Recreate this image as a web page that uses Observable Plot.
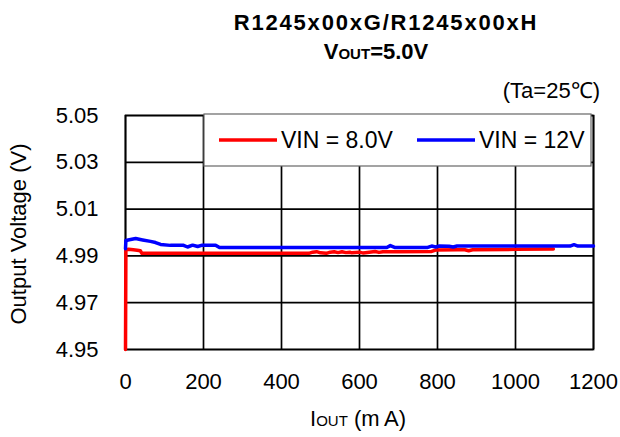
<!DOCTYPE html>
<html>
<head>
<meta charset="utf-8">
<script src="https://cdn.jsdelivr.net/npm/d3@7"></script>
<script src="https://cdn.jsdelivr.net/npm/@observablehq/plot@0.6"></script>
<style>
  html, body { margin: 0; padding: 0; background: #fff; }
  #chart { width: 620px; height: 437px; }
</style>
</head>
<body>
<div id="chart"></div>
<script>
// ---- data ----
const xTicks = [0, 200, 400, 600, 800, 1000, 1200];
const yTicks = [4.95, 4.97, 4.99, 5.01, 5.03, 5.05];

const seriesNames = ["VIN = 8.0V", "VIN = 12V"];
const seriesColors = ["#ff0000", "#0000ff"];

// VIN = 8.0V : [IOUT (mA), VOUT (V)]
const vin8 = [
  [0, 4.9500], [1, 4.9926], [8, 4.9928], [20, 4.9926], [30, 4.9924], [38, 4.9922],
  [42, 4.9911], [470, 4.9911], [480, 4.9916], [490, 4.9918], [500, 4.9913],
  [515, 4.9911], [525, 4.9916], [535, 4.9918], [545, 4.9914], [555, 4.9918],
  [565, 4.9914], [575, 4.9916], [580, 4.9913], [600, 4.9916], [610, 4.9912],
  [625, 4.9916], [640, 4.9919], [650, 4.9915], [660, 4.9918], [700, 4.9918],
  [785, 4.9919], [795, 4.9925], [850, 4.9926], [870, 4.9926], [880, 4.9922],
  [890, 4.9926], [1000, 4.9928], [1097, 4.9929]
];

// VIN = 12V
const vin12 = [
  [0, 4.9931], [1, 4.9966], [13, 4.9970], [26, 4.9974], [44, 4.9968], [64, 4.9962],
  [77, 4.9957], [90, 4.9949], [115, 4.9945], [149, 4.9945], [159, 4.9938],
  [172, 4.9946], [185, 4.9940], [197, 4.9946], [231, 4.9946], [241, 4.9936],
  [450, 4.9936], [670, 4.9936], [679, 4.9944], [690, 4.9936], [775, 4.9936],
  [785, 4.9942], [795, 4.9938], [805, 4.9942], [830, 4.9941], [840, 4.9938],
  [850, 4.9942], [1140, 4.9942], [1150, 4.9948], [1160, 4.9942], [1200, 4.9942]
];

const FONT = "'Liberation Sans', Arial, Helvetica, sans-serif";

const chart = Plot.plot({
  width: 620,
  height: 437,
  marginLeft: 125,
  marginRight: 27,
  marginTop: 115,
  marginBottom: 88,
  style: { fontFamily: FONT, fontSize: "22px", background: "#fff", color: "#000" },
  x: { domain: [0, 1200], label: null },
  y: { domain: [4.95, 5.05], label: null },
  marks: [
    Plot.gridX(xTicks, { stroke: "#000", strokeOpacity: 1, strokeWidth: 1.7 }),
    Plot.gridY(yTicks, { stroke: "#000", strokeOpacity: 1, strokeWidth: 1.7 }),
    Plot.frame({ stroke: "#000", strokeWidth: 1.7 }),
    Plot.line(vin8, { x: d => d[0], y: d => d[1], stroke: seriesColors[0], strokeWidth: 3.5, curve: "linear" }),
    Plot.line(vin12, { x: d => d[0], y: d => d[1], stroke: seriesColors[1], strokeWidth: 3.5, curve: "linear" }),
    Plot.axisX(xTicks, { tickSize: 0, tickPadding: 24, fontSize: 22, label: null, tickFormat: d => String(d) }),
    Plot.axisY(yTicks, { tickSize: 0, tickPadding: 27, fontSize: 22, label: null, tickFormat: d3.format(".2f") })
  ]
});

document.getElementById("chart").appendChild(chart);

const svg = d3.select(chart);
const xs = chart.scale("x"), ys = chart.scale("y");

// ---- legend box ----
const lx1 = xs.apply(200) + 1, lx2 = xs.apply(1200) - 2;
const ly1 = ys.apply(5.05) - 1, ly2 = ly1 + 52;
const lg = svg.append("g").attr("text-anchor", "start");
lg.append("rect")
  .attr("x", lx1).attr("y", ly1).attr("width", lx2 - lx1).attr("height", ly2 - ly1)
  .attr("fill", "#fff").attr("stroke", "#666").attr("stroke-width", 1.2);
const ly = (ly1 + ly2) / 2;
const legendItems = [
  { x0: lx1 + 15, name: seriesNames[0], color: seriesColors[0] },
  { x0: lx1 + 213, name: seriesNames[1], color: seriesColors[1] }
];
legendItems.forEach(it => {
  lg.append("line").attr("x1", it.x0).attr("x2", it.x0 + 58).attr("y1", ly).attr("y2", ly)
    .attr("stroke", it.color).attr("stroke-width", 3.5);
  lg.append("text").attr("x", it.x0 + 62).attr("y", ly).attr("dy", "0.36em")
    .attr("text-anchor", "start")
    .attr("font-family", FONT).attr("font-size", 23).attr("fill", "#000").text(it.name);
});

// ---- titles ----
const tg = svg.append("g").attr("font-family", FONT).attr("fill", "#000");
tg.append("text").attr("x", 386).attr("y", 30).attr("text-anchor", "middle")
  .attr("font-weight", "bold").attr("font-size", 22).attr("letter-spacing", "1.8px")
  .text("R1245x00xG/R1245x00xH");
const t2 = tg.append("text").attr("x", 376).attr("y", 59).attr("text-anchor", "middle")
  .attr("font-weight", "bold").attr("font-size", 22);
t2.append("tspan").text("V");
t2.append("tspan").attr("font-size", 15).text("OUT");
t2.append("tspan").text("=5.0V");
tg.append("text").attr("x", 600).attr("y", 98).attr("text-anchor", "end")
  .attr("font-size", 22).text("(Ta=25\u2103)");

// axis titles
const xt = tg.append("text").attr("x", 358).attr("y", 426).attr("text-anchor", "middle").attr("font-size", 22);
xt.append("tspan").text("I");
xt.append("tspan").attr("font-size", 15).text("OUT");
xt.append("tspan").text(" (m\u2009A)");
tg.append("text").attr("transform", "translate(26,234) rotate(-90)").attr("text-anchor", "middle")
  .attr("font-size", 22).text("Output Voltage (V)");
</script>
</body>
</html>
